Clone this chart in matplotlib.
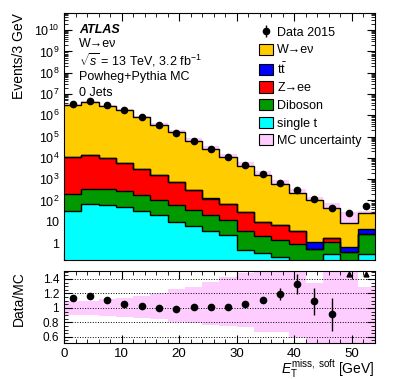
import matplotlib
matplotlib.use('Agg')
import matplotlib.pyplot as plt
from matplotlib.patches import Patch
from matplotlib.ticker import FixedLocator, MultipleLocator, LogLocator, FuncFormatter, NullFormatter
import numpy as np

plt.rcParams['font.family'] = ['Liberation Sans', 'DejaVu Sans']
plt.rcParams['mathtext.fontset'] = 'custom'
plt.rcParams['mathtext.rm'] = 'Liberation Sans'
plt.rcParams['mathtext.it'] = 'Liberation Sans:italic'
plt.rcParams['mathtext.bf'] = 'Liberation Sans:bold'

# binning (3 GeV bins)
edges = np.array([0, 3, 6, 9, 12, 15, 18, 21, 24, 27, 30, 33, 36, 39, 42, 45, 48, 51, 54])
centers = 0.5 * (edges[:-1] + edges[1:])

# data 2015 (events / bin) and stat. errors
data = np.array([3.4e6, 4.8e6, 3.1e6, 1.8e6, 8.3e5, 3.7e5, 1.55e5, 6.5e4, 2.6e4,
                 1.07e4, 4400, 1800, 690, 300, 114, 42, 25, 55])
data_err = np.array([1844, 2190, 1760, 1340, 911, 608, 394, 255, 161,
                     103, 66, 42, 46, 32, 20, 10.6, 5, 7.4])

# MC components (stacked bottom -> top)
single_t = np.array([32, 71, 60, 50, 32, 20, 10, 6.2, 3.6, 2.4, 0.47, 0.33, 0.21, 0, 0, 0.3, 0, 0.3])
diboson = np.array([163, 289, 270, 220, 156, 90, 50, 28.8, 16.4, 9.6, 3.13, 1.87, 1.19, 0.9, 0.54, 0.85, 0.37, 2.5])
zee = np.array([10300, 13600, 9400, 5330, 2710, 1390, 680, 265, 103, 54, 25.4, 7.8, 5.5, 2.7, 0, 0.62, 0, 0])
ttbar = np.array([3, 5, 5, 4, 3, 2.5, 2, 1.5, 1, 0.5, 0.3, 0.2, 0.2, 0.2, 0.61, 0, 0.26, 1.6])
wenu = np.array([2.998e6, 4.124e6, 2.783e6, 1.692e6, 8.03e5, 3.685e5, 1.558e5, 6.406e4, 2.562e4,
                 1.0527e4, 4161, 1612, 573, 221.8, 103.4, 44.4, 8.3, 21.6])

# relative MC uncertainty (up / down)
mc_up = np.array([1.09, 1.10, 1.12, 1.14, 1.17, 1.20, 1.26, 1.29, 1.36, 1.42, 1.48, 1.55,
                  1.55, 1.6, 1.35, 1.6, 3.3, 1.29])
mc_down = np.array([0.90, 0.90, 0.89, 0.88, 0.86, 0.85, 0.81, 0.79, 0.77, 0.75, 0.74, 0.67,
                    0.67, 0.58, 0.45, 0.3, 0.2, 0.4])

labels = ['W\u2192e\u03bd', r'$\mathrm{t}\bar{\mathrm{t}}$', 'Z\u2192ee', 'Diboson', 'single t']
colors = ['#ffcc00', '#0000ff', '#ff0000', '#009900', '#00ffff']
pink = '#ffccff'

fig = plt.figure(figsize=(3.95, 3.79), dpi=100)
ax = fig.add_axes([0.162, 0.314, 0.787, 0.652])
rax = fig.add_axes([0.162, 0.095, 0.787, 0.19])

mc_total = single_t + diboson + zee + ttbar + wenu

# uncertainty band first, stack drawn on top
ax.stairs(mc_total * mc_up, edges, baseline=mc_total * mc_down, fill=True,
          color=pink, lw=0, zorder=1)

base = np.full(len(centers), 1e-3)
for vals, col in zip([single_t, diboson, zee, ttbar, wenu], colors[::-1]):
    top = base + vals
    ax.stairs(top, edges, baseline=base, fill=True, color=col, lw=0, zorder=2)
    ax.stairs(top, edges, baseline=None, color='k', lw=1.0, zorder=3)
    base = top

dh = ax.errorbar(centers, data, yerr=data_err, fmt='o', color='k', ms=4.5,
                 lw=1, capsize=0, zorder=5)

ax.set_yscale('log')
ax.set_xlim(0, 54)
ax.set_ylim(0.16, 6.5e10)


def log_fmt(v, pos):
    e = int(round(np.log10(v)))
    if e == 0:
        return '1'
    if e == 1:
        return '10'
    return r'$10^{%d}$' % e


ax.yaxis.set_major_locator(LogLocator(base=10, numticks=20))
ax.yaxis.set_minor_locator(LogLocator(base=10, subs=np.arange(2, 10), numticks=20))
ax.yaxis.set_major_formatter(FuncFormatter(log_fmt))
ax.yaxis.set_minor_formatter(NullFormatter())
ax.xaxis.set_major_locator(MultipleLocator(10))
ax.xaxis.set_minor_locator(MultipleLocator(2))
ax.set_xticklabels([])
ax.tick_params(which='both', direction='in', top=True, right=True, labelsize=9)
ax.tick_params(which='major', length=6)
ax.tick_params(which='minor', length=3)
ax.set_ylabel('Events/3 GeV', loc='top', fontsize=10)
ax.yaxis.set_label_coords(-0.122, 1.0)

# labels
ax.text(0.048, 0.932, 'ATLAS', transform=ax.transAxes, fontsize=9,
        fontweight='bold', fontstyle='italic', va='center')
info = ['W\u2192e\u03bd', r'$\sqrt{s}$ = 13 TeV, 3.2 fb$^{-1}$', 'Powheg+Pythia MC', '0 Jets']
for i, t in enumerate(info):
    ax.text(0.048, 0.874 - i * 0.066, t, transform=ax.transAxes, fontsize=9, va='center')

handles = [dh] + [Patch(facecolor=c, edgecolor='k', lw=0.8) for c in colors] + \
          [Patch(facecolor=pink, edgecolor='k', lw=0.8)]
leg_labels = ['Data 2015'] + labels + ['MC uncertainty']
ax.legend(handles, leg_labels, loc='upper left', bbox_to_anchor=(0.628, 0.947),
          frameon=False, fontsize=9, handlelength=1.1, handleheight=1.0,
          handletextpad=0.35, labelspacing=0.38, borderpad=0, borderaxespad=0)

# ratio panel
ratio = data / mc_total
ratio_err = data_err / mc_total
rax.stairs(mc_up, edges, baseline=mc_down, fill=True, color=pink, lw=0, zorder=1)
inside = ratio < 1.5
rax.errorbar(centers[inside], ratio[inside], yerr=ratio_err[inside], fmt='o', color='k',
             ms=4.5, lw=1, capsize=0, zorder=5)
rax.plot(centers[~inside], np.full((~inside).sum(), 1.47), '^', color='k', ms=3.5, zorder=5)

rax.set_xlim(0, 54)
rax.set_ylim(0.515, 1.51)
rax.yaxis.set_major_locator(FixedLocator([0.6, 0.8, 1.0, 1.2, 1.4]))
rax.yaxis.set_major_formatter(FuncFormatter(lambda v, p: '%g' % v))
rax.yaxis.set_minor_locator(MultipleLocator(0.05))
rax.xaxis.set_major_locator(MultipleLocator(10))
rax.xaxis.set_minor_locator(MultipleLocator(2))
rax.tick_params(which='both', direction='in', top=True, right=True, labelsize=9.5)
rax.tick_params(axis='y', labelsize=8.5)
rax.tick_params(which='major', length=6)
rax.tick_params(which='minor', length=3)
rax.grid(True, axis='y', ls=':', color='k', lw=0.7, zorder=2)
rax.set_axisbelow(False)
rax.set_ylabel('Data/MC', loc='top', fontsize=10)
rax.yaxis.set_label_coords(-0.122, 1.0)
rax.set_xlabel(r'$E_{\mathrm{T}}^{\mathrm{miss,\ soft}}$ [GeV]', loc='right', fontsize=10)
rax.xaxis.set_label_coords(1.0, -0.2)

fig.savefig('out.png', dpi=100)
